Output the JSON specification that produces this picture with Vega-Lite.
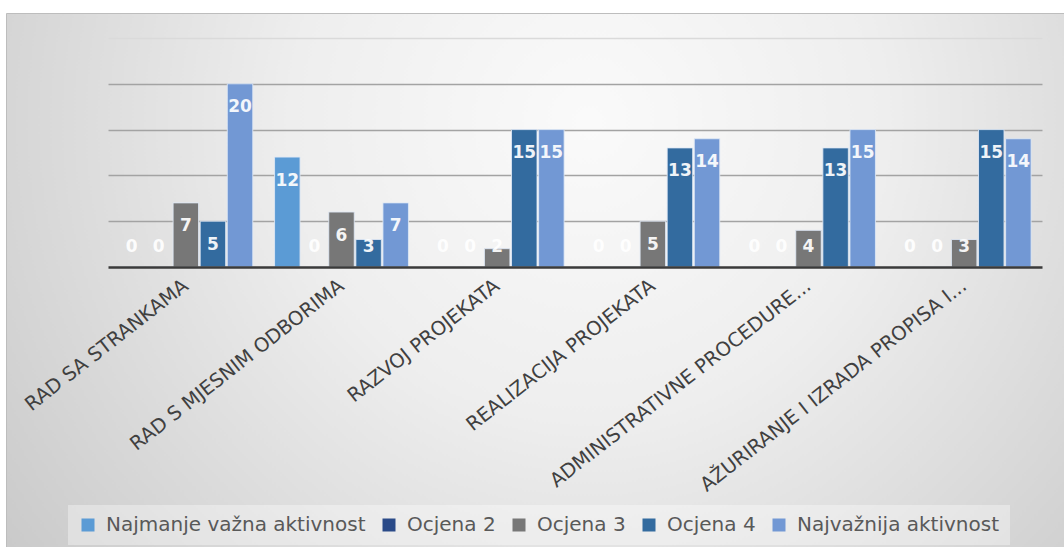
{
  "$schema": "https://vega.github.io/schema/vega-lite/v6.json",
  "width": 1058,
  "height": 534,
  "autosize": {"type": "none"},
  "padding": {"left": 6, "top": 13, "right": 0, "bottom": 0},
  "background": "white",
  "view": {
    "fill": {
      "gradient": "radial",
      "x1": 0.55, "y1": 0.35, "r1": 0,
      "x2": 0.55, "y2": 0.35, "r2": 0.7,
      "stops": [
        {"offset": 0, "color": "#fafafa"},
        {"offset": 0.4, "color": "#eeeeee"},
        {"offset": 1, "color": "#c8c8c8"}
      ]
    },
    "stroke": "#bdbdbd"
  },
  "data": {
    "values": [
      {"category": "RAD SA STRANKAMA", "series": "Najmanje važna aktivnost", "value": 0},
      {"category": "RAD SA STRANKAMA", "series": "Ocjena 2", "value": 0},
      {"category": "RAD SA STRANKAMA", "series": "Ocjena 3", "value": 7},
      {"category": "RAD SA STRANKAMA", "series": "Ocjena 4", "value": 5},
      {"category": "RAD SA STRANKAMA", "series": "Najvažnija aktivnost", "value": 20},
      {"category": "RAD S MJESNIM ODBORIMA", "series": "Najmanje važna aktivnost", "value": 12},
      {"category": "RAD S MJESNIM ODBORIMA", "series": "Ocjena 2", "value": 0},
      {"category": "RAD S MJESNIM ODBORIMA", "series": "Ocjena 3", "value": 6},
      {"category": "RAD S MJESNIM ODBORIMA", "series": "Ocjena 4", "value": 3},
      {"category": "RAD S MJESNIM ODBORIMA", "series": "Najvažnija aktivnost", "value": 7},
      {"category": "RAZVOJ PROJEKATA", "series": "Najmanje važna aktivnost", "value": 0},
      {"category": "RAZVOJ PROJEKATA", "series": "Ocjena 2", "value": 0},
      {"category": "RAZVOJ PROJEKATA", "series": "Ocjena 3", "value": 2},
      {"category": "RAZVOJ PROJEKATA", "series": "Ocjena 4", "value": 15},
      {"category": "RAZVOJ PROJEKATA", "series": "Najvažnija aktivnost", "value": 15},
      {"category": "REALIZACIJA PROJEKATA", "series": "Najmanje važna aktivnost", "value": 0},
      {"category": "REALIZACIJA PROJEKATA", "series": "Ocjena 2", "value": 0},
      {"category": "REALIZACIJA PROJEKATA", "series": "Ocjena 3", "value": 5},
      {"category": "REALIZACIJA PROJEKATA", "series": "Ocjena 4", "value": 13},
      {"category": "REALIZACIJA PROJEKATA", "series": "Najvažnija aktivnost", "value": 14},
      {"category": "ADMINISTRATIVNE PROCEDURE...", "series": "Najmanje važna aktivnost", "value": 0},
      {"category": "ADMINISTRATIVNE PROCEDURE...", "series": "Ocjena 2", "value": 0},
      {"category": "ADMINISTRATIVNE PROCEDURE...", "series": "Ocjena 3", "value": 4},
      {"category": "ADMINISTRATIVNE PROCEDURE...", "series": "Ocjena 4", "value": 13},
      {"category": "ADMINISTRATIVNE PROCEDURE...", "series": "Najvažnija aktivnost", "value": 15},
      {"category": "AŽURIRANJE I IZRADA PROPISA I...", "series": "Najmanje važna aktivnost", "value": 0},
      {"category": "AŽURIRANJE I IZRADA PROPISA I...", "series": "Ocjena 2", "value": 0},
      {"category": "AŽURIRANJE I IZRADA PROPISA I...", "series": "Ocjena 3", "value": 3},
      {"category": "AŽURIRANJE I IZRADA PROPISA I...", "series": "Ocjena 4", "value": 15},
      {"category": "AŽURIRANJE I IZRADA PROPISA I...", "series": "Najvažnija aktivnost", "value": 14}
    ]
  },
  "encoding": {
    "x": {
      "field": "category",
      "type": "nominal",
      "sort": null,
      "scale": {"range": [102, 1036], "paddingInner": 0.14, "paddingOuter": 0.07},
      "axis": {
        "title": null,
        "orient": "bottom",
        "offset": -280,
        "labelAngle": -38,
        "labelAlign": "right",
        "labelBaseline": "middle",
        "labelFont": "DejaVu Sans",
        "labelFontSize": 19.5,
        "labelColor": "#404040",
        "labelPadding": 16,
        "labelLimit": 0,
        "ticks": false,
        "grid": false,
        "domainColor": "#3a3a3a",
        "domainWidth": 2.5,
        "zindex": 1
      }
    },
    "xOffset": {
      "field": "series",
      "type": "nominal",
      "sort": ["Najmanje važna aktivnost", "Ocjena 2", "Ocjena 3", "Ocjena 4", "Najvažnija aktivnost"],
      "scale": {"paddingInner": 0.06, "paddingOuter": 0}
    }
  },
  "layer": [
    {
      "mark": {"type": "bar", "stroke": "#dfe9f6", "strokeWidth": 1, "strokeOpacity": 0.85},
      "encoding": {
        "y": {
          "field": "value",
          "type": "quantitative",
          "scale": {"domain": [0, 25], "range": [254, 25], "nice": false},
          "axis": {
            "title": null,
            "values": [5, 10, 15, 20, 25],
            "grid": true,
            "gridColor": {"condition": {"test": "datum.value >= 25", "value": "#dadada"}, "value": "#a3a3a3"},
            "gridWidth": 1.3,
            "labels": false,
            "ticks": false,
            "domain": false
          }
        },
        "color": {
          "field": "series",
          "type": "nominal",
          "scale": {
            "domain": ["Najmanje važna aktivnost", "Ocjena 2", "Ocjena 3", "Ocjena 4", "Najvažnija aktivnost"],
            "range": ["#5b9bd5", "#2a4a88", "#777777", "#336b9f", "#7298d4"]
          },
          "legend": {
            "title": null,
            "orient": "none",
            "legendX": 62,
            "legendY": 492,
            "direction": "horizontal",
            "columns": 5,
            "symbolType": "square",
            "symbolSize": 169,
            "symbolStrokeWidth": 0,
            "labelFont": "DejaVu Sans",
            "labelFontSize": 20,
            "labelColor": "#595959",
            "labelOffset": 8,
            "labelLimit": 400,
            "columnPadding": 13,
            "padding": 10,
            "fillColor": "rgba(255,255,255,0.35)"
          }
        }
      }
    },
    {
      "mark": {"type": "text", "color": "white", "font": "DejaVu Sans", "fontWeight": "bold", "fontSize": 17, "baseline": "middle", "align": "center", "opacity": 0.92},
      "encoding": {
        "y": {
          "field": "value",
          "type": "quantitative",
          "scale": {"domain": [4.8, 25], "range": [233.5, 48.5], "clamp": true, "zero": false, "nice": false},
          "axis": null
        },
        "text": {"field": "value", "type": "quantitative"}
      }
    }
  ],
  "resolve": {"scale": {"y": "independent"}}
}
